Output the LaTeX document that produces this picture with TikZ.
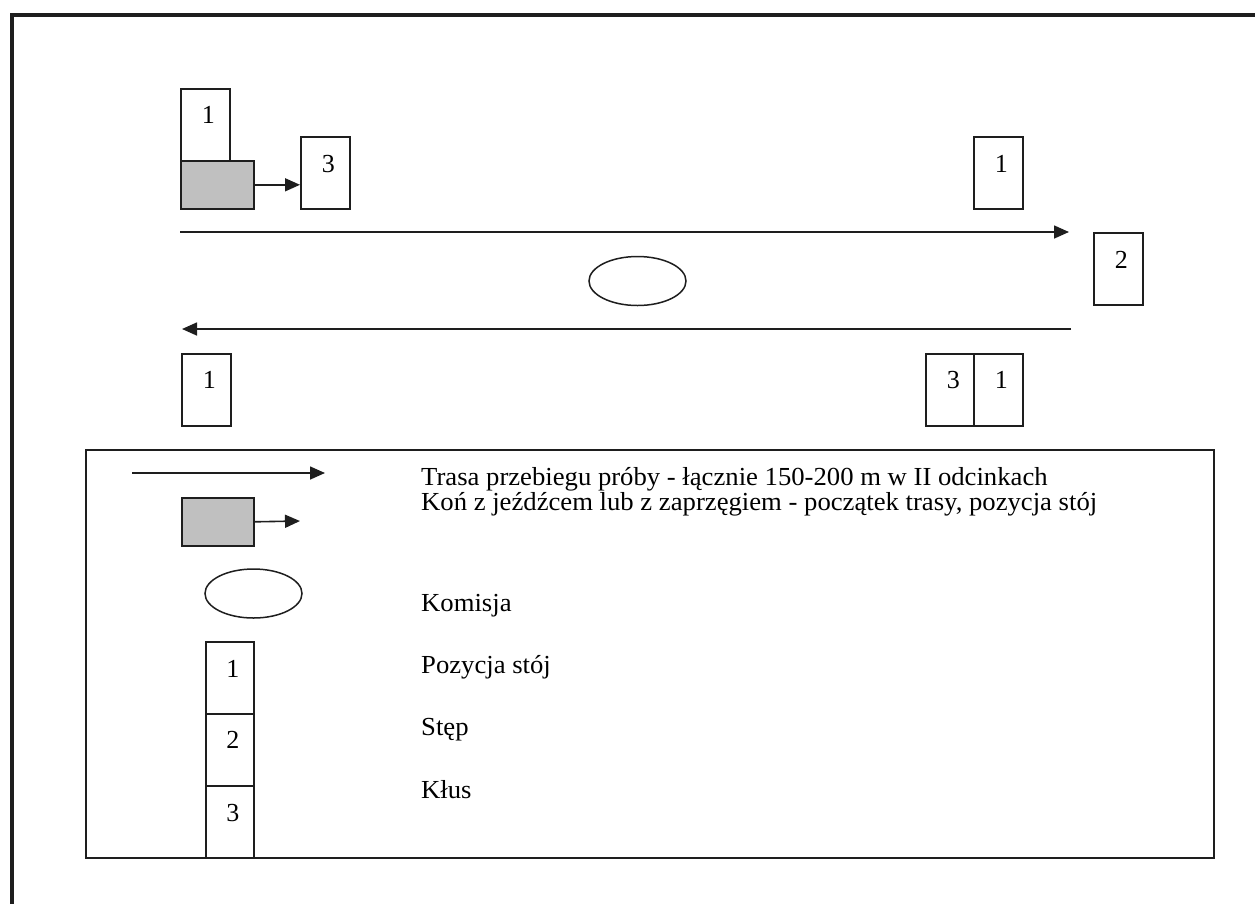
\documentclass[tikz,border=0pt]{standalone}
\usepackage{fontspec}
\setmainfont{Liberation Serif}
\usetikzlibrary{arrows.meta,shapes.geometric,calc}
\definecolor{linec}{RGB}{30,30,30}
\definecolor{horsegray}{RGB}{192,192,192}
\newcommand{\wdtext}[1]{\scalebox{1.026}[1]{#1}}
\begin{document}
\begin{tikzpicture}[x=1pt,y=-1pt,
  every node/.style={font=\fontsize{26}{30}\selectfont},
  posbox/.style={draw=linec, line width=1.6pt, fill=white, minimum width=49pt, minimum height=72pt, inner sep=0pt, anchor=north west},
  horse/.style={draw=linec, fill=horsegray, line width=1.6pt, minimum width=73pt, minimum height=48pt, inner sep=0pt, anchor=north west},
  komisja/.style={ellipse, draw=linec, line width=1.5pt, minimum width=97pt, minimum height=49pt, inner sep=0pt},
  route/.style={draw=linec, line width=1.6pt, -{Triangle[length=15pt,width=13pt]}},
  num/.style={anchor=base, inner sep=0pt},
  legtext/.style={anchor=base west, inner sep=0pt}]
\useasboundingbox (0,0) rectangle (1255,903);
% outer frame (right and bottom sides lie outside the picture)
\draw[linec, line width=3.5pt, line join=miter] (12,920) -- (12,15) -- (1270,15);

% ---- course ----
\node[posbox] (tl1) at (180,88) {};
\node[horse] (tlh) at (180,160) {};
\node[posbox] (tl3) at (300,136) {};
\node[posbox] (tr1) at (973,136) {};
\node[posbox] (r2) at (1093,232) {};
\node[posbox] (br3) at (925,353) {};
\node[posbox] (br1) at (973,353) {};
\node[posbox] (bl1) at (181,353) {};

\node[num] (tl1n) at ($(tl1.north)+(3,35)$) {1};
\node[num] (tl3n) at ($(tl3.north)+(3,36)$) {3};
\node[num] (tr1n) at ($(tr1.north)+(3,36)$) {1};
\node[num] (r2n) at ($(r2.north)+(3,36)$) {2};
\node[num] (br3n) at ($(br3.north)+(3,35)$) {3};
\node[num] (br1n) at ($(br1.north)+(3,35)$) {1};
\node[num] (bl1n) at ($(bl1.north)+(3,35)$) {1};

\draw[route] (tlh.east) -- (tlh.east -| tl3.west);

\coordinate (topstart) at (180,232);
\coordinate (topend) at (1069,232);
\coordinate (botstart) at (1071,329);
\coordinate (botend) at (182,329);
\draw[route] (topstart) -- (topend);
\draw[route] (botstart) -- (botend);

\node[komisja] (kom) at (637.5,281) {};

% ---- legend ----
\node[draw=linec, line width=2pt, minimum width=1128pt, minimum height=408pt, inner sep=0pt, anchor=north west] (legend) at (85,449) {};

\coordinate (la1) at (132,473);
\coordinate (la2) at (325,473);
\draw[route] (la1) -- (la2);

\node[horse, minimum width=72pt] (lh) at (181,497) {};
\coordinate (lhe) at (300,521);
\draw[route] (lh.east) -- (lhe);

\node[komisja] (lkom) at (253.5,593.5) {};

\node[posbox, minimum width=48pt] (s1) at (205,641) {};
\node[posbox, minimum width=48pt] (s2) at (205,713) {};
\node[posbox, minimum width=48pt] (s3) at (205,785) {};
\node[num] (s1n) at ($(s1.north)+(3,36)$) {1};
\node[num] (s2n) at ($(s2.north)+(3,35)$) {2};
\node[num] (s3n) at ($(s3.north)+(3,36)$) {3};

\node[legtext] (t1) at (421,485) {\wdtext{Trasa przebiegu próby - łącznie 150-200 m w II odcinkach}};
\node[legtext] (t2) at (421,510) {\wdtext{Koń z jeźdźcem lub z zaprzęgiem - początek trasy, pozycja stój}};
\node[legtext] (t3) at (421,611) {\wdtext{Komisja}};
\node[legtext] (t4) at (421,673) {\wdtext{Pozycja stój}};
\node[legtext] (t5) at (421,735) {\wdtext{Stęp}};
\node[legtext] (t6) at (421,798) {\wdtext{Kłus}};
\end{tikzpicture}
\end{document}
